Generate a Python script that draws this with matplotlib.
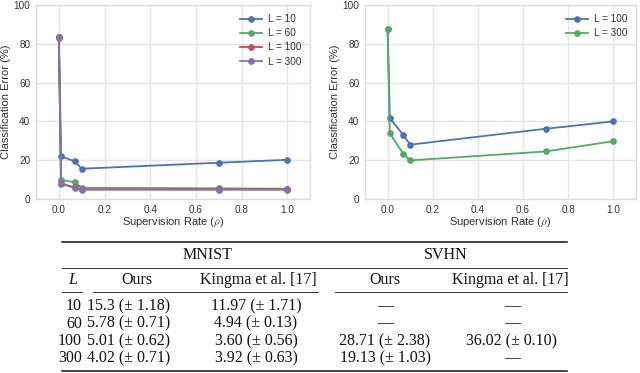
import matplotlib
matplotlib.use("Agg")
import matplotlib.pyplot as plt
from matplotlib.lines import Line2D

# ---------------- data ----------------
rates = [0.0, 0.01, 0.07, 0.1, 0.7, 1.0]

mnist_labels = ["L = 10", "L = 60", "L = 100", "L = 300"]
mnist_L10 = [83.3, 22.0, 19.4, 15.6, 18.7, 20.2]
mnist_L60 = [83.3, 9.9, 8.6, 5.8, 5.5, 5.3]
mnist_L100 = [83.5, 8.0, 6.0, 5.0, 5.0, 5.0]
mnist_L300 = [83.2, 7.7, 5.7, 4.8, 4.8, 4.8]

svhn_labels = ["L = 100", "L = 300"]
svhn_L100 = [87.8, 41.7, 32.9, 28.0, 36.2, 40.0]
svhn_L300 = [87.8, 33.8, 23.2, 19.9, 24.5, 29.8]

xticks = [0.0, 0.2, 0.4, 0.6, 0.8, 1.0]
yticks = [0, 20, 40, 60, 80, 100]

table_L = ["10", "60", "100", "300"]
table_mnist_ours = ["15.3 (± 1.18)", "5.78 (± 0.71)", "5.01 (± 0.62)", "4.02 (± 0.71)"]
table_mnist_kingma = ["11.97 (± 1.71)", "4.94 (± 0.13)", "3.60 (± 0.56)", "3.92 (± 0.63)"]
table_svhn_ours = ["—", "—", "28.71 (± 2.38)", "19.13 (± 1.03)"]
table_svhn_kingma = ["—", "—", "36.02 (± 0.10)", "—"]

colors = ["#4C72B0", "#55A868", "#C44E52", "#8172B2"]

# ---------------- style ----------------
plt.rcParams["font.family"] = ["Liberation Sans", "DejaVu Sans"]
plt.rcParams["mathtext.fontset"] = "cm"

W, H = 640, 373
fig = plt.figure(figsize=(W / 100, H / 100), dpi=100)


def ax_rect(x0, x1, y0, y1):
    return [x0 / W, 1 - y1 / H, (x1 - x0) / W, (y1 - y0) / H]


def style(ax, ylab_x):
    ax.set_xlim(-0.1, 1.1)
    ax.set_ylim(0, 100)
    ax.set_xticks(xticks)
    ax.set_yticks(yticks)
    ax.set_xticklabels([f"{v:.1f}" for v in xticks])
    ax.grid(True, color="#E5E5E5", lw=1.0)
    ax.set_axisbelow(True)
    for s in ax.spines.values():
        s.set_color("#DDDDDD")
        s.set_linewidth(1.0)
    ax.tick_params(length=0, labelsize=7.2, colors="#333333", pad=4)
    ax.set_xlabel(r"Supervision Rate ($\rho$)", fontsize=8, color="#333333")
    ax.set_ylabel("Classification Error (%)", fontsize=8, color="#333333")
    ax.xaxis.set_label_coords(0.5, -0.088)
    ax.yaxis.set_label_coords(ylab_x, 0.5)


def legend(ax):
    ax.legend(loc="upper right", frameon=False, fontsize=7.2, handlelength=2.2,
              handletextpad=0.6, labelspacing=0.42, borderaxespad=0.5,
              labelcolor="#333333")


ax1 = fig.add_axes(ax_rect(36, 310, 5, 199))
for vals, lab, c in zip([mnist_L10, mnist_L60, mnist_L100, mnist_L300], mnist_labels, colors):
    ax1.plot(rates, vals, "-o", color=c, lw=1.3, ms=3.8, label=lab)
style(ax1, (11 - 36) / 274)
legend(ax1)

ax2 = fig.add_axes(ax_rect(365, 636, 5, 199))
for vals, lab, c in zip([svhn_L100, svhn_L300], svhn_labels, colors[:2]):
    ax2.plot(rates, vals, "-o", color=c, lw=1.3, ms=3.8, label=lab)
style(ax2, (340 - 365) / 271)
legend(ax2)

# ---------------- table ----------------
tfont = dict(family=["Liberation Serif", "DejaVu Serif"], fontsize=11.5, color="#111111")


def ftext(x, y, s, ha="center", **kw):
    d = dict(tfont)
    d.update(kw)
    fig.text(x / W, 1 - y / H, s, ha=ha, va="center", **d)


def hline(x0, x1, y, lw):
    fig.add_artist(Line2D([x0 / W, x1 / W], [1 - y / H, 1 - y / H], color="#111111", lw=lw))


hline(62, 567, 242, 1.1)
hline(62, 567, 268, 0.6)
hline(62, 82, 292, 0.6)
hline(93, 318, 292, 0.6)
hline(335, 567, 292, 0.6)
hline(62, 567, 371, 1.1)

ftext(208, 255, "MNIST")
ftext(446, 255, "SVHN")
ftext(73, 280, "L", style="italic")
ftext(137, 280, "Ours")
ftext(258, 280, "Kingma et al. [17]")
ftext(385, 280, "Ours")
ftext(510, 280, "Kingma et al. [17]")

row_y = [306, 323.5, 341, 358]
for i, y in enumerate(row_y):
    ftext(82, y, table_L[i], ha="right")
    ftext(87, y, table_mnist_ours[i], ha="left")
    ftext(256, y, table_mnist_kingma[i])
    ftext(385, y, table_svhn_ours[i])
    ftext(512, y, table_svhn_kingma[i])

fig.savefig("out.png", dpi=100)
